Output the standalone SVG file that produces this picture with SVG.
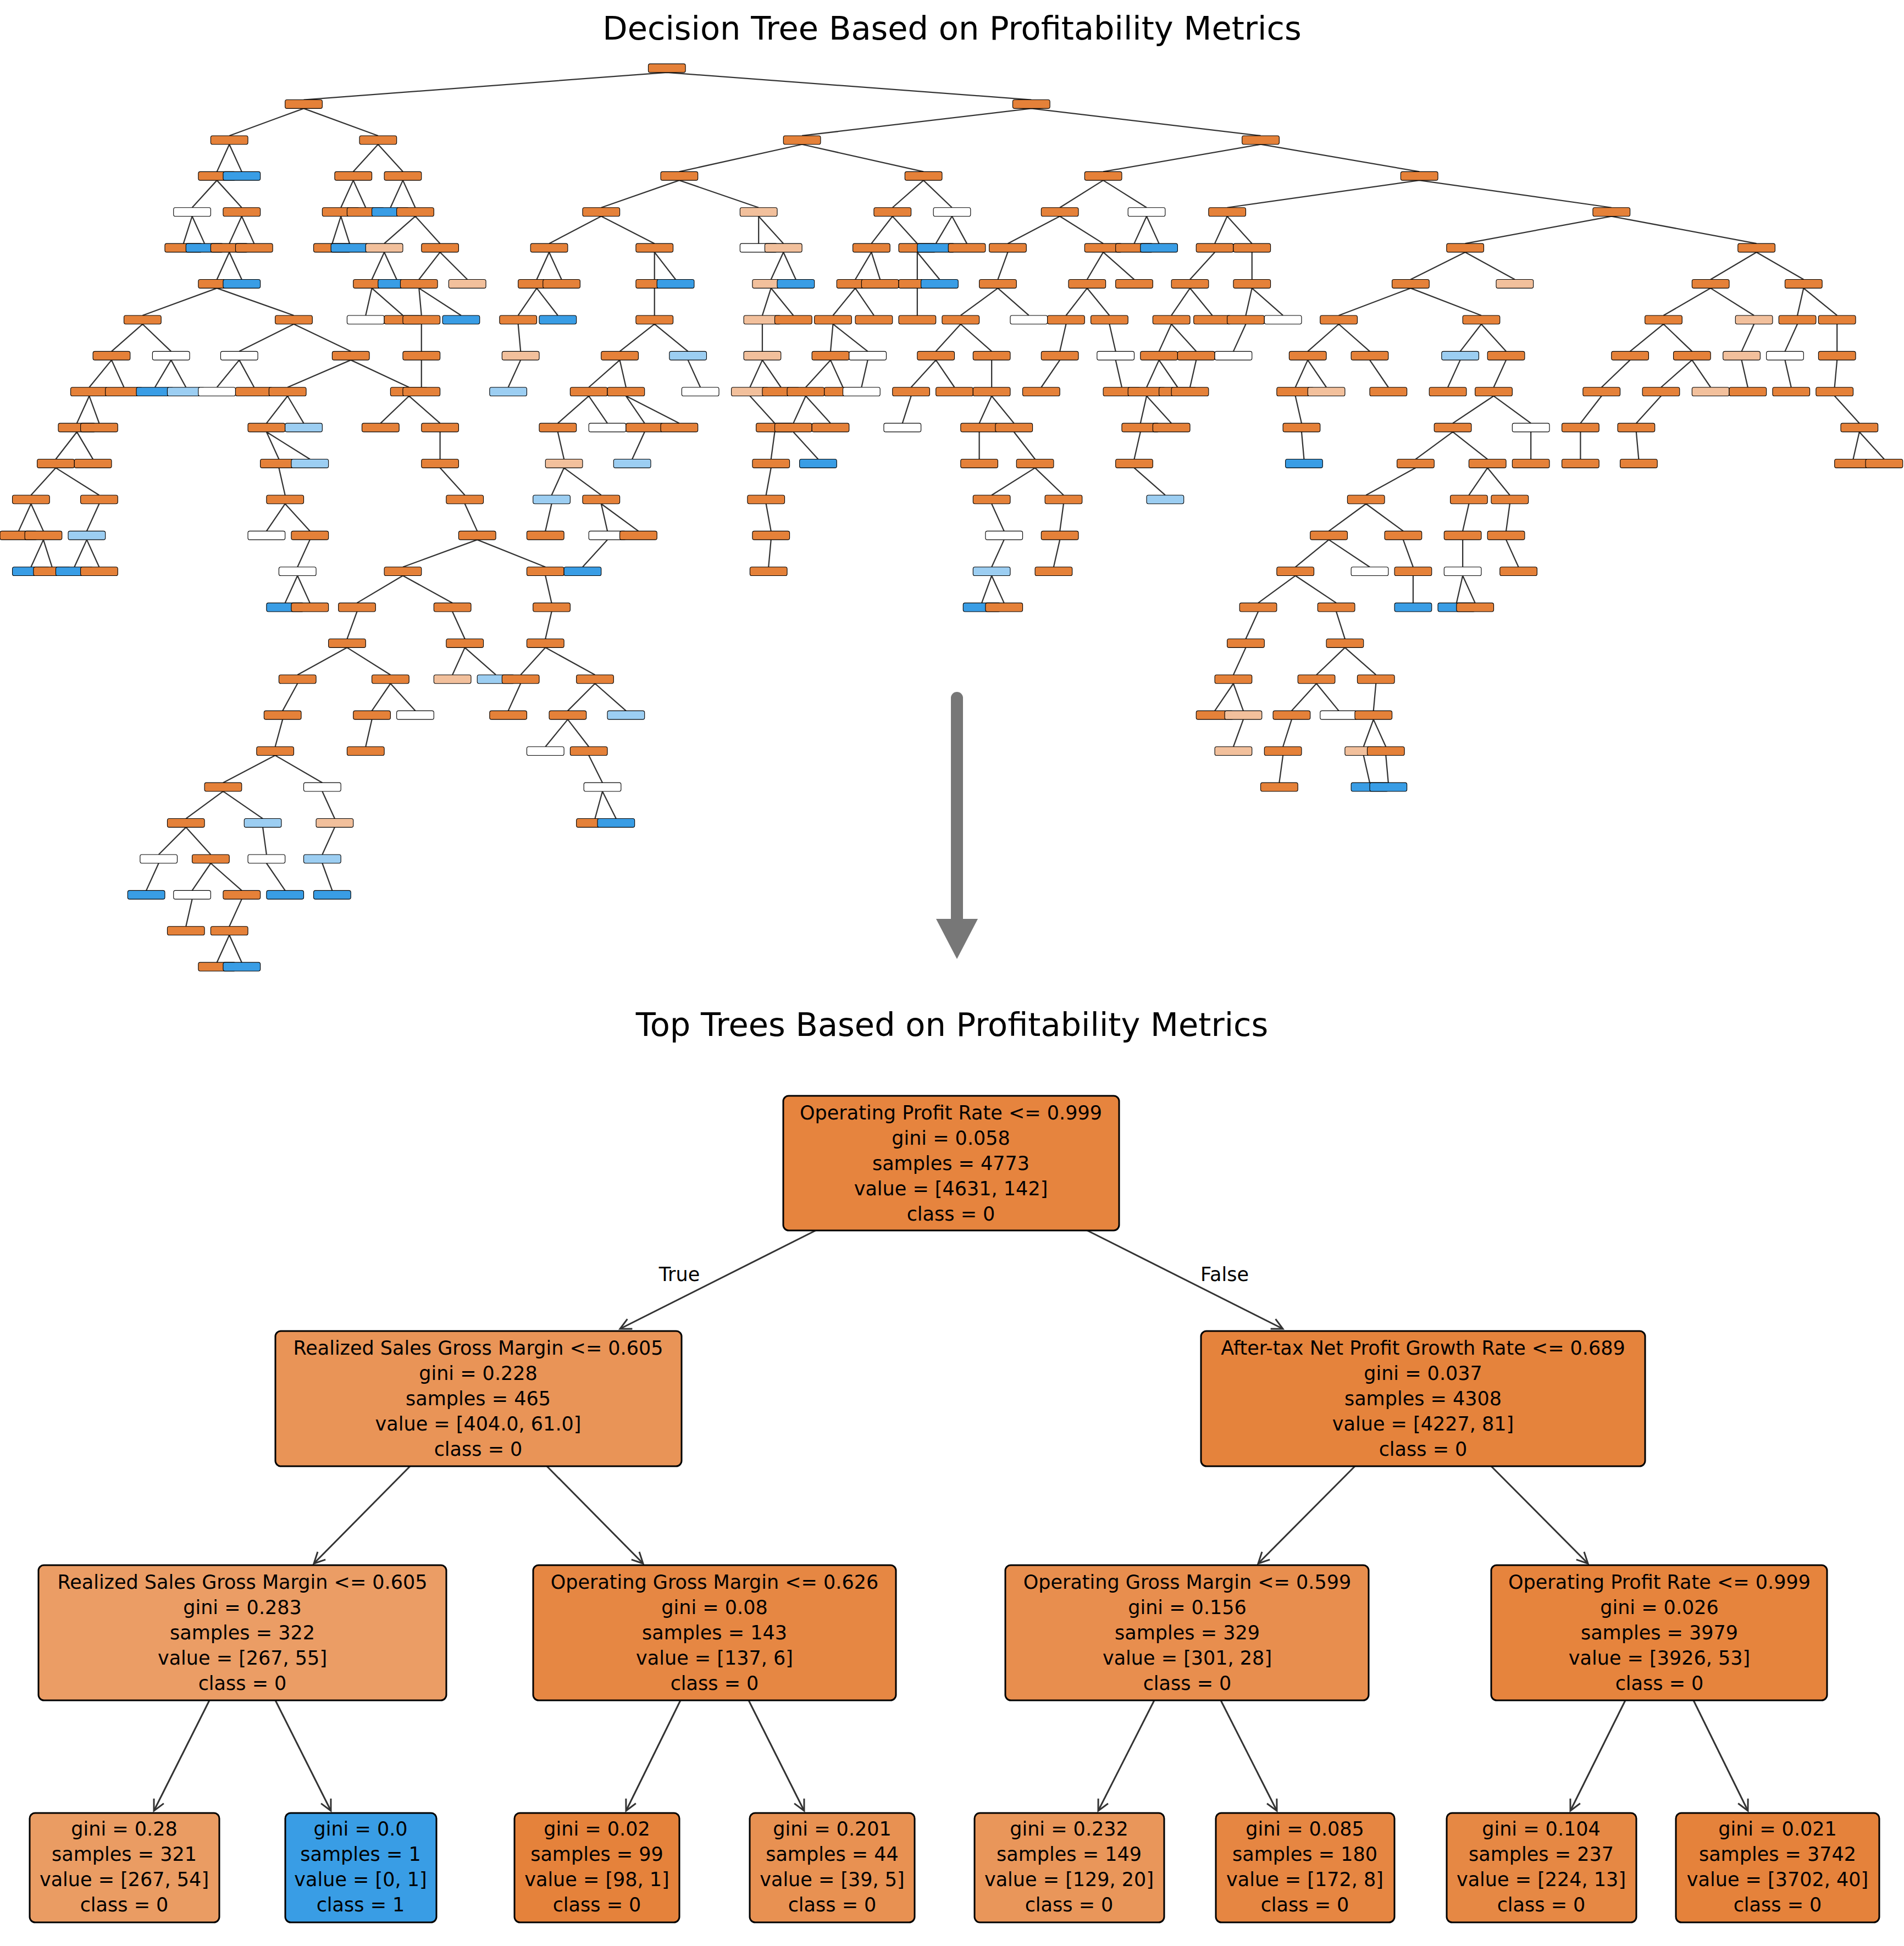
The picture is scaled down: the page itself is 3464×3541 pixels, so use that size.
<svg xmlns="http://www.w3.org/2000/svg" xmlns:xlink="http://www.w3.org/1999/xlink" width="3464" height="3541" viewBox="0 0 3464 3541">
<style>
text{font-family:"DejaVu Sans","Liberation Sans",sans-serif;fill:#000}
.t{font-size:59px;text-anchor:middle}
.nt{font-size:35px;text-anchor:middle}
.bx{stroke:#000;stroke-width:3}
.sm use{stroke:#000;stroke-width:0.5}
.o{fill:#e58139}.l{fill:#f2c09c}.w{fill:#ffffff}.b{fill:#399de5}.k{fill:#9ccef2}
.e{fill:none;stroke:#333;stroke-width:3}
.se{fill:none;stroke:#333;stroke-width:1}
</style>
<defs>
<rect id="n" x="-15" y="-3.5" width="30" height="7" rx="1.5"/>
<marker id="ah" markerWidth="26" markerHeight="26" refX="22" refY="13" orient="auto" markerUnits="userSpaceOnUse"><path d="M2,3 L22,13 L2,23" fill="none" stroke="#333" stroke-width="3"/></marker>
</defs>
<rect width="3464" height="3541" fill="#fff"/>
<text class="t" x="1732" y="72">Decision Tree Based on Profitability Metrics</text>
<text class="t" x="1732" y="1885">Top Trees Based on Profitability Metrics</text>
<g id="bigtree" transform="scale(2.2552)">
<g id="bigtree-edges">
<path class="se" d="M538 58.5L245 80.5M538 58.5L832 80.5
M245 87.5L185 109.5M245 87.5L305 109.5M832 87.5L647 109.5M832 87.5L1017 109.5
M185 116.5L175 138.5M185 116.5L195 138.5M305 116.5L285 138.5M305 116.5L325 138.5M647 116.5L548 138.5M647 116.5L745 138.5M1017 116.5L890 138.5M1017 116.5L1145 138.5
M175 145.5L155 167.5M175 145.5L195 167.5M285 145.5L275 167.5M285 145.5L295 167.5M325 145.5L315 167.5M325 145.5L335 167.5M548 145.5L485 167.5M548 145.5L612 167.5M745 145.5L720 167.5M745 145.5L768 167.5M890 145.5L855 167.5M890 145.5L925 167.5M1145 145.5L990 167.5M1145 145.5L1300 167.5
M155 174.5L148 196.5M155 174.5L165 196.5M195 174.5L185 196.5M195 174.5L205 196.5M275 174.5L268 196.5M275 174.5L282 196.5M335 174.5L310 196.5M335 174.5L355 196.5M485 174.5L443 196.5M485 174.5L528 196.5M612 174.5L612 196.5M612 174.5L632 196.5M720 174.5L703 196.5M720 174.5L740 196.5M768 174.5L755 196.5M768 174.5L780 196.5M855 174.5L813 196.5M855 174.5L890 196.5M925 174.5L915 196.5M925 174.5L935 196.5M990 174.5L980 196.5M990 174.5L1010 196.5M1300 174.5L1182 196.5M1300 174.5L1417 196.5
M185 203.5L175 225.5M185 203.5L195 225.5M310 203.5L300 225.5M310 203.5L320 225.5M355 203.5L338 225.5M355 203.5L377 225.5M443 203.5L433 225.5M443 203.5L453 225.5M528 203.5L528 225.5M528 203.5L545 225.5M632 203.5L622 225.5M632 203.5L642 225.5M703 203.5L690 225.5M703 203.5L710 225.5M740 203.5L740 225.5M740 203.5L758 225.5M813 203.5L805 225.5M890 203.5L877 225.5M890 203.5L915 225.5M980 203.5L960 225.5M1010 203.5L1010 225.5M1182 203.5L1138 225.5M1182 203.5L1222 225.5M1417 203.5L1380 225.5M1417 203.5L1455 225.5
M175 232.5L115 254.5M175 232.5L237 254.5M300 232.5L295 254.5M300 232.5L325 254.5M338 232.5L340 254.5M338 232.5L372 254.5M433 232.5L418 254.5M433 232.5L450 254.5M528 232.5L528 254.5M622 232.5L615 254.5M622 232.5L640 254.5M690 232.5L672 254.5M690 232.5L705 254.5M740 232.5L740 254.5M805 232.5L775 254.5M805 232.5L830 254.5M877 232.5L860 254.5M877 232.5L895 254.5M960 232.5L945 254.5M960 232.5L978 254.5M1010 232.5L1005 254.5M1010 232.5L1035 254.5M1138 232.5L1080 254.5M1138 232.5L1195 254.5M1380 232.5L1342 254.5M1380 232.5L1415 254.5M1455 232.5L1450 254.5M1455 232.5L1482 254.5
M115 261.5L90 283.5M115 261.5L138 283.5M237 261.5L193 283.5M237 261.5L283 283.5M340 261.5L340 283.5M418 261.5L420 283.5M528 261.5L500 283.5M528 261.5L555 283.5M615 261.5L615 283.5M672 261.5L670 283.5M672 261.5L700 283.5M775 261.5L755 283.5M775 261.5L800 283.5M860 261.5L855 283.5M895 261.5L900 283.5M945 261.5L935 283.5M945 261.5L965 283.5M1005 261.5L995 283.5M1080 261.5L1055 283.5M1080 261.5L1105 283.5M1195 261.5L1178 283.5M1195 261.5L1215 283.5M1342 261.5L1315 283.5M1342 261.5L1365 283.5M1415 261.5L1405 283.5M1450 261.5L1440 283.5M1482 261.5L1482 283.5
M90 290.5L72 312.5M90 290.5L100 312.5M138 290.5L125 312.5M138 290.5L150 312.5M193 290.5L175 312.5M193 290.5L205 312.5M283 290.5L232 312.5M283 290.5L330 312.5M340 290.5L340 312.5M420 290.5L410 312.5M500 290.5L475 312.5M500 290.5L505 312.5M555 290.5L565 312.5M615 290.5L605 312.5M615 290.5L630 312.5M670 290.5L650 312.5M670 290.5L680 312.5M700 290.5L695 312.5M755 290.5L735 312.5M755 290.5L770 312.5M800 290.5L800 312.5M855 290.5L840 312.5M900 290.5L905 312.5M935 290.5L925 312.5M935 290.5L950 312.5M965 290.5L960 312.5M1055 290.5L1045 312.5M1055 290.5L1070 312.5M1105 290.5L1120 312.5M1178 290.5L1168 312.5M1215 290.5L1205 312.5M1315 290.5L1292 312.5M1365 290.5L1340 312.5M1365 290.5L1380 312.5M1405 290.5L1410 312.5M1440 290.5L1445 312.5M1482 290.5L1480 312.5
M72 319.5L62 341.5M72 319.5L80 341.5M232 319.5L215 341.5M232 319.5L245 341.5M330 319.5L307 341.5M330 319.5L355 341.5M475 319.5L450 341.5M475 319.5L490 341.5M505 319.5L520 341.5M505 319.5L548 341.5M605 319.5L625 341.5M650 319.5L640 341.5M650 319.5L670 341.5M735 319.5L728 341.5M800 319.5L790 341.5M800 319.5L818 341.5M925 319.5L920 341.5M925 319.5L945 341.5M1045 319.5L1050 341.5M1205 319.5L1172 341.5M1205 319.5L1235 341.5M1292 319.5L1275 341.5M1340 319.5L1320 341.5M1480 319.5L1500 341.5
M62 348.5L45 370.5M62 348.5L75 370.5M215 348.5L225 370.5M215 348.5L250 370.5M355 348.5L355 370.5M450 348.5L455 370.5M520 348.5L510 370.5M625 348.5L622 370.5M640 348.5L660 370.5M790 348.5L790 370.5M818 348.5L835 370.5M920 348.5L915 370.5M1050 348.5L1052 370.5M1172 348.5L1142 370.5M1172 348.5L1200 370.5M1235 348.5L1235 370.5M1275 348.5L1275 370.5M1320 348.5L1322 370.5M1500 348.5L1495 370.5M1500 348.5L1520 370.5
M45 377.5L25 399.5M45 377.5L80 399.5M225 377.5L230 399.5M355 377.5L375 399.5M455 377.5L445 399.5M455 377.5L485 399.5M622 377.5L618 399.5M835 377.5L800 399.5M835 377.5L858 399.5M915 377.5L940 399.5M1142 377.5L1102 399.5M1200 377.5L1185 399.5M1200 377.5L1218 399.5
M25 406.5L15 428.5M25 406.5L35 428.5M80 406.5L70 428.5M230 406.5L215 428.5M230 406.5L250 428.5M375 406.5L385 428.5M445 406.5L440 428.5M485 406.5L490 428.5M485 406.5L515 428.5M618 406.5L622 428.5M800 406.5L810 428.5M858 406.5L855 428.5M1102 406.5L1072 428.5M1102 406.5L1132 428.5M1218 406.5L1215 428.5M1185 406.5L1180 428.5
M35 435.5L25 457.5M35 435.5L42 457.5M70 435.5L60 457.5M70 435.5L80 457.5M250 435.5L240 457.5M385 435.5L325 457.5M385 435.5L440 457.5M490 435.5L470 457.5M622 435.5L620 457.5M810 435.5L800 457.5M855 435.5L850 457.5M1072 435.5L1045 457.5M1072 435.5L1105 457.5M1132 435.5L1140 457.5M1215 435.5L1225 457.5M1180 435.5L1180 457.5
M240 464.5L230 486.5M240 464.5L250 486.5M325 464.5L288 486.5M325 464.5L365 486.5M440 464.5L445 486.5M800 464.5L792 486.5M800 464.5L810 486.5M1045 464.5L1015 486.5M1045 464.5L1078 486.5M1140 464.5L1140 486.5M1180 464.5L1175 486.5M1180 464.5L1190 486.5
M288 493.5L280 515.5M365 493.5L375 515.5M445 493.5L440 515.5M1015 493.5L1005 515.5M1078 493.5L1085 515.5
M280 522.5L240 544.5M280 522.5L315 544.5M375 522.5L365 544.5M375 522.5L400 544.5M440 522.5L420 544.5M440 522.5L480 544.5M1005 522.5L995 544.5M1085 522.5L1062 544.5M1085 522.5L1110 544.5
M240 551.5L228 573.5M315 551.5L300 573.5M315 551.5L335 573.5M420 551.5L410 573.5M480 551.5L458 573.5M480 551.5L505 573.5M995 551.5L980 573.5M995 551.5L1003 573.5M1062 551.5L1042 573.5M1062 551.5L1080 573.5M1110 551.5L1108 573.5
M228 580.5L222 602.5M458 580.5L440 602.5M458 580.5L475 602.5M1003 580.5L995 602.5M1042 580.5L1035 602.5M1108 580.5L1100 602.5M1108 580.5L1118 602.5M300 580.5L295 602.5
M222 609.5L180 631.5M222 609.5L260 631.5M475 609.5L486 631.5M1035 609.5L1032 631.5M1100 609.5L1105 631.5M1118 609.5L1120 631.5
M180 638.5L150 660.5M180 638.5L212 660.5M260 638.5L270 660.5M486 638.5L480 660.5M486 638.5L497 660.5
M150 667.5L128 689.5M150 667.5L170 689.5M212 667.5L215 689.5M270 667.5L260 689.5
M128 696.5L118 718.5M170 696.5L155 718.5M170 696.5L195 718.5M215 696.5L230 718.5M260 696.5L268 718.5
M195 725.5L185 747.5M155 725.5L150 747.5M185 754.5L175 776.5M185 754.5L195 776.5"/>
</g>
<g id="bigtree-nodes" class="sm">
<use href="#n" x="538" y="55" class="o"/>
<use href="#n" x="245" y="84" class="o"/><use href="#n" x="832" y="84" class="o"/>
<use href="#n" x="185" y="113" class="o"/><use href="#n" x="305" y="113" class="o"/><use href="#n" x="647" y="113" class="o"/><use href="#n" x="1017" y="113" class="o"/>
<use href="#n" x="175" y="142" class="o"/><use href="#n" x="195" y="142" class="b"/><use href="#n" x="285" y="142" class="o"/><use href="#n" x="325" y="142" class="o"/><use href="#n" x="548" y="142" class="o"/><use href="#n" x="745" y="142" class="o"/><use href="#n" x="890" y="142" class="o"/><use href="#n" x="1145" y="142" class="o"/>
<use href="#n" x="155" y="171" class="w"/><use href="#n" x="195" y="171" class="o"/><use href="#n" x="275" y="171" class="o"/><use href="#n" x="295" y="171" class="o"/><use href="#n" x="315" y="171" class="b"/><use href="#n" x="335" y="171" class="o"/><use href="#n" x="485" y="171" class="o"/><use href="#n" x="612" y="171" class="l"/><use href="#n" x="720" y="171" class="o"/><use href="#n" x="768" y="171" class="w"/><use href="#n" x="855" y="171" class="o"/><use href="#n" x="925" y="171" class="w"/><use href="#n" x="990" y="171" class="o"/><use href="#n" x="1300" y="171" class="o"/>
<use href="#n" x="148" y="200" class="o"/><use href="#n" x="165" y="200" class="b"/><use href="#n" x="185" y="200" class="o"/><use href="#n" x="205" y="200" class="o"/><use href="#n" x="268" y="200" class="o"/><use href="#n" x="282" y="200" class="b"/><use href="#n" x="310" y="200" class="l"/><use href="#n" x="355" y="200" class="o"/><use href="#n" x="443" y="200" class="o"/><use href="#n" x="528" y="200" class="o"/><use href="#n" x="612" y="200" class="w"/><use href="#n" x="632" y="200" class="l"/><use href="#n" x="703" y="200" class="o"/><use href="#n" x="740" y="200" class="o"/><use href="#n" x="755" y="200" class="b"/><use href="#n" x="780" y="200" class="o"/><use href="#n" x="813" y="200" class="o"/><use href="#n" x="890" y="200" class="o"/><use href="#n" x="915" y="200" class="o"/><use href="#n" x="935" y="200" class="b"/><use href="#n" x="980" y="200" class="o"/><use href="#n" x="1010" y="200" class="o"/><use href="#n" x="1182" y="200" class="o"/><use href="#n" x="1417" y="200" class="o"/>
<use href="#n" x="175" y="229" class="o"/><use href="#n" x="195" y="229" class="b"/><use href="#n" x="300" y="229" class="o"/><use href="#n" x="320" y="229" class="b"/><use href="#n" x="338" y="229" class="o"/><use href="#n" x="377" y="229" class="l"/><use href="#n" x="433" y="229" class="o"/><use href="#n" x="453" y="229" class="o"/><use href="#n" x="528" y="229" class="o"/><use href="#n" x="545" y="229" class="b"/><use href="#n" x="622" y="229" class="l"/><use href="#n" x="642" y="229" class="b"/><use href="#n" x="690" y="229" class="o"/><use href="#n" x="710" y="229" class="o"/><use href="#n" x="740" y="229" class="o"/><use href="#n" x="758" y="229" class="b"/><use href="#n" x="805" y="229" class="o"/><use href="#n" x="877" y="229" class="o"/><use href="#n" x="915" y="229" class="o"/><use href="#n" x="960" y="229" class="o"/><use href="#n" x="1010" y="229" class="o"/><use href="#n" x="1138" y="229" class="o"/><use href="#n" x="1222" y="229" class="l"/><use href="#n" x="1380" y="229" class="o"/><use href="#n" x="1455" y="229" class="o"/>
<use href="#n" x="115" y="258" class="o"/><use href="#n" x="237" y="258" class="o"/><use href="#n" x="295" y="258" class="w"/><use href="#n" x="325" y="258" class="o"/><use href="#n" x="340" y="258" class="o"/><use href="#n" x="372" y="258" class="b"/><use href="#n" x="418" y="258" class="o"/><use href="#n" x="450" y="258" class="b"/><use href="#n" x="528" y="258" class="o"/><use href="#n" x="615" y="258" class="l"/><use href="#n" x="640" y="258" class="o"/><use href="#n" x="672" y="258" class="o"/><use href="#n" x="705" y="258" class="o"/><use href="#n" x="740" y="258" class="o"/><use href="#n" x="775" y="258" class="o"/><use href="#n" x="830" y="258" class="w"/><use href="#n" x="860" y="258" class="o"/><use href="#n" x="895" y="258" class="o"/><use href="#n" x="945" y="258" class="o"/><use href="#n" x="978" y="258" class="o"/><use href="#n" x="1005" y="258" class="o"/><use href="#n" x="1035" y="258" class="w"/><use href="#n" x="1080" y="258" class="o"/><use href="#n" x="1195" y="258" class="o"/><use href="#n" x="1342" y="258" class="o"/><use href="#n" x="1415" y="258" class="l"/><use href="#n" x="1450" y="258" class="o"/><use href="#n" x="1482" y="258" class="o"/>
<use href="#n" x="90" y="287" class="o"/><use href="#n" x="138" y="287" class="w"/><use href="#n" x="193" y="287" class="w"/><use href="#n" x="283" y="287" class="o"/><use href="#n" x="340" y="287" class="o"/><use href="#n" x="420" y="287" class="l"/><use href="#n" x="500" y="287" class="o"/><use href="#n" x="555" y="287" class="k"/><use href="#n" x="615" y="287" class="l"/><use href="#n" x="670" y="287" class="o"/><use href="#n" x="700" y="287" class="w"/><use href="#n" x="755" y="287" class="o"/><use href="#n" x="800" y="287" class="o"/><use href="#n" x="855" y="287" class="o"/><use href="#n" x="900" y="287" class="w"/><use href="#n" x="935" y="287" class="o"/><use href="#n" x="965" y="287" class="o"/><use href="#n" x="995" y="287" class="w"/><use href="#n" x="1055" y="287" class="o"/><use href="#n" x="1105" y="287" class="o"/><use href="#n" x="1178" y="287" class="k"/><use href="#n" x="1215" y="287" class="o"/><use href="#n" x="1315" y="287" class="o"/><use href="#n" x="1365" y="287" class="o"/><use href="#n" x="1405" y="287" class="l"/><use href="#n" x="1440" y="287" class="w"/><use href="#n" x="1482" y="287" class="o"/>
<use href="#n" x="72" y="316" class="o"/><use href="#n" x="100" y="316" class="o"/><use href="#n" x="125" y="316" class="b"/><use href="#n" x="150" y="316" class="k"/><use href="#n" x="175" y="316" class="w"/><use href="#n" x="205" y="316" class="o"/><use href="#n" x="232" y="316" class="o"/><use href="#n" x="330" y="316" class="o"/><use href="#n" x="410" y="316" class="k"/><use href="#n" x="475" y="316" class="o"/><use href="#n" x="505" y="316" class="o"/><use href="#n" x="565" y="316" class="w"/><use href="#n" x="605" y="316" class="l"/><use href="#n" x="630" y="316" class="o"/><use href="#n" x="650" y="316" class="o"/><use href="#n" x="680" y="316" class="o"/><use href="#n" x="695" y="316" class="w"/><use href="#n" x="735" y="316" class="o"/><use href="#n" x="770" y="316" class="o"/><use href="#n" x="800" y="316" class="o"/><use href="#n" x="840" y="316" class="o"/><use href="#n" x="905" y="316" class="o"/><use href="#n" x="925" y="316" class="o"/><use href="#n" x="950" y="316" class="o"/><use href="#n" x="960" y="316" class="o"/><use href="#n" x="1045" y="316" class="o"/><use href="#n" x="1070" y="316" class="l"/><use href="#n" x="1120" y="316" class="o"/><use href="#n" x="1168" y="316" class="o"/><use href="#n" x="1205" y="316" class="o"/><use href="#n" x="1292" y="316" class="o"/><use href="#n" x="1340" y="316" class="o"/><use href="#n" x="1380" y="316" class="l"/><use href="#n" x="1410" y="316" class="o"/><use href="#n" x="1445" y="316" class="o"/><use href="#n" x="1480" y="316" class="o"/><use href="#n" x="340" y="316" class="o"/>
<use href="#n" x="62" y="345" class="o"/><use href="#n" x="80" y="345" class="o"/><use href="#n" x="215" y="345" class="o"/><use href="#n" x="245" y="345" class="k"/><use href="#n" x="307" y="345" class="o"/><use href="#n" x="355" y="345" class="o"/><use href="#n" x="450" y="345" class="o"/><use href="#n" x="490" y="345" class="w"/><use href="#n" x="520" y="345" class="o"/><use href="#n" x="548" y="345" class="o"/><use href="#n" x="625" y="345" class="o"/><use href="#n" x="640" y="345" class="o"/><use href="#n" x="670" y="345" class="o"/><use href="#n" x="728" y="345" class="w"/><use href="#n" x="790" y="345" class="o"/><use href="#n" x="818" y="345" class="o"/><use href="#n" x="920" y="345" class="o"/><use href="#n" x="945" y="345" class="o"/><use href="#n" x="1050" y="345" class="o"/><use href="#n" x="1172" y="345" class="o"/><use href="#n" x="1235" y="345" class="w"/><use href="#n" x="1275" y="345" class="o"/><use href="#n" x="1320" y="345" class="o"/><use href="#n" x="1500" y="345" class="o"/>
<use href="#n" x="45" y="374" class="o"/><use href="#n" x="75" y="374" class="o"/><use href="#n" x="225" y="374" class="o"/><use href="#n" x="250" y="374" class="k"/><use href="#n" x="355" y="374" class="o"/><use href="#n" x="455" y="374" class="l"/><use href="#n" x="510" y="374" class="k"/><use href="#n" x="622" y="374" class="o"/><use href="#n" x="660" y="374" class="b"/><use href="#n" x="790" y="374" class="o"/><use href="#n" x="835" y="374" class="o"/><use href="#n" x="915" y="374" class="o"/><use href="#n" x="1052" y="374" class="b"/><use href="#n" x="1142" y="374" class="o"/><use href="#n" x="1200" y="374" class="o"/><use href="#n" x="1235" y="374" class="o"/><use href="#n" x="1275" y="374" class="o"/><use href="#n" x="1322" y="374" class="o"/><use href="#n" x="1495" y="374" class="o"/><use href="#n" x="1520" y="374" class="o"/>
<use href="#n" x="25" y="403" class="o"/><use href="#n" x="80" y="403" class="o"/><use href="#n" x="230" y="403" class="o"/><use href="#n" x="375" y="403" class="o"/><use href="#n" x="445" y="403" class="k"/><use href="#n" x="485" y="403" class="o"/><use href="#n" x="618" y="403" class="o"/><use href="#n" x="800" y="403" class="o"/><use href="#n" x="858" y="403" class="o"/><use href="#n" x="940" y="403" class="k"/><use href="#n" x="1102" y="403" class="o"/><use href="#n" x="1185" y="403" class="o"/><use href="#n" x="1218" y="403" class="o"/>
<use href="#n" x="15" y="432" class="o"/><use href="#n" x="35" y="432" class="o"/><use href="#n" x="70" y="432" class="k"/><use href="#n" x="215" y="432" class="w"/><use href="#n" x="250" y="432" class="o"/><use href="#n" x="385" y="432" class="o"/><use href="#n" x="440" y="432" class="o"/><use href="#n" x="490" y="432" class="w"/><use href="#n" x="515" y="432" class="o"/><use href="#n" x="622" y="432" class="o"/><use href="#n" x="810" y="432" class="w"/><use href="#n" x="855" y="432" class="o"/><use href="#n" x="1072" y="432" class="o"/><use href="#n" x="1132" y="432" class="o"/><use href="#n" x="1215" y="432" class="o"/><use href="#n" x="1180" y="432" class="o"/>
<use href="#n" x="25" y="461" class="b"/><use href="#n" x="42" y="461" class="o"/><use href="#n" x="60" y="461" class="b"/><use href="#n" x="80" y="461" class="o"/><use href="#n" x="240" y="461" class="w"/><use href="#n" x="325" y="461" class="o"/><use href="#n" x="440" y="461" class="o"/><use href="#n" x="470" y="461" class="b"/><use href="#n" x="620" y="461" class="o"/><use href="#n" x="800" y="461" class="k"/><use href="#n" x="850" y="461" class="o"/><use href="#n" x="1045" y="461" class="o"/><use href="#n" x="1105" y="461" class="w"/><use href="#n" x="1140" y="461" class="o"/><use href="#n" x="1225" y="461" class="o"/><use href="#n" x="1180" y="461" class="w"/>
<use href="#n" x="230" y="490" class="b"/><use href="#n" x="250" y="490" class="o"/><use href="#n" x="288" y="490" class="o"/><use href="#n" x="365" y="490" class="o"/><use href="#n" x="445" y="490" class="o"/><use href="#n" x="792" y="490" class="b"/><use href="#n" x="810" y="490" class="o"/><use href="#n" x="1015" y="490" class="o"/><use href="#n" x="1078" y="490" class="o"/><use href="#n" x="1140" y="490" class="b"/><use href="#n" x="1175" y="490" class="b"/><use href="#n" x="1190" y="490" class="o"/>
<use href="#n" x="280" y="519" class="o"/><use href="#n" x="375" y="519" class="o"/><use href="#n" x="440" y="519" class="o"/><use href="#n" x="1005" y="519" class="o"/><use href="#n" x="1085" y="519" class="o"/>
<use href="#n" x="240" y="548" class="o"/><use href="#n" x="315" y="548" class="o"/><use href="#n" x="365" y="548" class="l"/><use href="#n" x="400" y="548" class="k"/><use href="#n" x="420" y="548" class="o"/><use href="#n" x="480" y="548" class="o"/><use href="#n" x="995" y="548" class="o"/><use href="#n" x="1062" y="548" class="o"/><use href="#n" x="1110" y="548" class="o"/>
<use href="#n" x="228" y="577" class="o"/><use href="#n" x="300" y="577" class="o"/><use href="#n" x="335" y="577" class="w"/><use href="#n" x="410" y="577" class="o"/><use href="#n" x="458" y="577" class="o"/><use href="#n" x="505" y="577" class="k"/><use href="#n" x="980" y="577" class="o"/><use href="#n" x="1003" y="577" class="l"/><use href="#n" x="1042" y="577" class="o"/><use href="#n" x="1080" y="577" class="w"/><use href="#n" x="1108" y="577" class="o"/>
<use href="#n" x="222" y="606" class="o"/><use href="#n" x="295" y="606" class="o"/><use href="#n" x="440" y="606" class="w"/><use href="#n" x="475" y="606" class="o"/><use href="#n" x="995" y="606" class="l"/><use href="#n" x="1035" y="606" class="o"/><use href="#n" x="1100" y="606" class="l"/><use href="#n" x="1118" y="606" class="o"/>
<use href="#n" x="180" y="635" class="o"/><use href="#n" x="260" y="635" class="w"/><use href="#n" x="486" y="635" class="w"/><use href="#n" x="1032" y="635" class="o"/><use href="#n" x="1105" y="635" class="b"/><use href="#n" x="1120" y="635" class="b"/>
<use href="#n" x="150" y="664" class="o"/><use href="#n" x="212" y="664" class="k"/><use href="#n" x="270" y="664" class="l"/><use href="#n" x="480" y="664" class="o"/><use href="#n" x="497" y="664" class="b"/>
<use href="#n" x="128" y="693" class="w"/><use href="#n" x="170" y="693" class="o"/><use href="#n" x="215" y="693" class="w"/><use href="#n" x="260" y="693" class="k"/>
<use href="#n" x="118" y="722" class="b"/><use href="#n" x="155" y="722" class="w"/><use href="#n" x="195" y="722" class="o"/><use href="#n" x="230" y="722" class="b"/><use href="#n" x="268" y="722" class="b"/>
<use href="#n" x="185" y="751" class="o"/><use href="#n" x="150" y="751" class="o"/>
<use href="#n" x="175" y="780" class="o"/><use href="#n" x="195" y="780" class="b"/>
</g>
</g>
<g id="big-arrow">
<line x1="1741" y1="1270" x2="1741" y2="1680" stroke="#777" stroke-width="22" stroke-linecap="round"/>
<polygon points="1703,1672 1779,1672 1741,1745" fill="#777"/>
</g>
<g id="connectors">
<path class="e" marker-end="url(#ah)" d="M1484 2239L1128 2418"/>
<path class="e" marker-end="url(#ah)" d="M1978 2239L2334 2418"/>
<path class="e" marker-end="url(#ah)" d="M746 2668L571 2845"/>
<path class="e" marker-end="url(#ah)" d="M995 2668L1170 2845"/>
<path class="e" marker-end="url(#ah)" d="M2465 2668L2289 2845"/>
<path class="e" marker-end="url(#ah)" d="M2713 2668L2889 2845"/>
<path class="e" marker-end="url(#ah)" d="M381 3094L280 3295"/>
<path class="e" marker-end="url(#ah)" d="M501 3094L602 3295"/>
<path class="e" marker-end="url(#ah)" d="M1238 3094L1139 3295"/>
<path class="e" marker-end="url(#ah)" d="M1362 3094L1463 3295"/>
<path class="e" marker-end="url(#ah)" d="M2100 3094L1998 3295"/>
<path class="e" marker-end="url(#ah)" d="M2221 3094L2323 3295"/>
<path class="e" marker-end="url(#ah)" d="M2957 3094L2857 3295"/>
<path class="e" marker-end="url(#ah)" d="M3081 3094L3180 3295"/>
<text class="nt" x="1236" y="2331">True</text>
<text class="nt" x="2228" y="2331">False</text>
</g>
<g id="root"><rect class="bx" x="1425" y="1994" width="611" height="245" rx="10" fill="#e6843e"/>
<text class="nt" x="1730" y="2037">Operating Profit Rate &lt;= 0.999</text><text class="nt" x="1730" y="2083">gini = 0.058</text><text class="nt" x="1730" y="2129">samples = 4773</text><text class="nt" x="1730" y="2175">value = [4631, 142]</text><text class="nt" x="1730" y="2221">class = 0</text></g>
<g id="n1"><rect class="bx" x="501" y="2422" width="739" height="246" rx="10" fill="#e99457"/>
<text class="nt" x="870" y="2465">Realized Sales Gross Margin &lt;= 0.605</text><text class="nt" x="870" y="2511">gini = 0.228</text><text class="nt" x="870" y="2557">samples = 465</text><text class="nt" x="870" y="2603">value = [404.0, 61.0]</text><text class="nt" x="870" y="2649">class = 0</text></g>
<g id="n2"><rect class="bx" x="2185" y="2422" width="808" height="246" rx="10" fill="#e5833c"/>
<text class="nt" x="2589" y="2465">After-tax Net Profit Growth Rate &lt;= 0.689</text><text class="nt" x="2589" y="2511">gini = 0.037</text><text class="nt" x="2589" y="2557">samples = 4308</text><text class="nt" x="2589" y="2603">value = [4227, 81]</text><text class="nt" x="2589" y="2649">class = 0</text></g>
<g id="n3"><rect class="bx" x="70" y="2848" width="742" height="246" rx="10" fill="#eb9d65"/>
<text class="nt" x="441" y="2891">Realized Sales Gross Margin &lt;= 0.605</text><text class="nt" x="441" y="2937">gini = 0.283</text><text class="nt" x="441" y="2983">samples = 322</text><text class="nt" x="441" y="3029">value = [267, 55]</text><text class="nt" x="441" y="3075">class = 0</text></g>
<g id="n4"><rect class="bx" x="970" y="2848" width="660" height="246" rx="10" fill="#e68743"/>
<text class="nt" x="1300" y="2891">Operating Gross Margin &lt;= 0.626</text><text class="nt" x="1300" y="2937">gini = 0.08</text><text class="nt" x="1300" y="2983">samples = 143</text><text class="nt" x="1300" y="3029">value = [137, 6]</text><text class="nt" x="1300" y="3075">class = 0</text></g>
<g id="n5"><rect class="bx" x="1829" y="2848" width="661" height="246" rx="10" fill="#e88e4e"/>
<text class="nt" x="2160" y="2891">Operating Gross Margin &lt;= 0.599</text><text class="nt" x="2160" y="2937">gini = 0.156</text><text class="nt" x="2160" y="2983">samples = 329</text><text class="nt" x="2160" y="3029">value = [301, 28]</text><text class="nt" x="2160" y="3075">class = 0</text></g>
<g id="n6"><rect class="bx" x="2713" y="2848" width="611" height="246" rx="10" fill="#e6843d"/>
<text class="nt" x="3019" y="2891">Operating Profit Rate &lt;= 0.999</text><text class="nt" x="3019" y="2937">gini = 0.026</text><text class="nt" x="3019" y="2983">samples = 3979</text><text class="nt" x="3019" y="3029">value = [3926, 53]</text><text class="nt" x="3019" y="3075">class = 0</text></g>
<g id="n7"><rect class="bx" x="54" y="3299" width="345" height="199" rx="10" fill="#ea9c63"/>
<text class="nt" x="226" y="3340">gini = 0.28</text><text class="nt" x="226" y="3386">samples = 321</text><text class="nt" x="226" y="3432">value = [267, 54]</text><text class="nt" x="226" y="3478">class = 0</text></g>
<g id="n8"><rect class="bx" x="519" y="3299" width="275" height="199" rx="10" fill="#399de5"/>
<text class="nt" x="656" y="3340">gini = 0.0</text><text class="nt" x="656" y="3386">samples = 1</text><text class="nt" x="656" y="3432">value = [0, 1]</text><text class="nt" x="656" y="3478">class = 1</text></g>
<g id="n9"><rect class="bx" x="936" y="3299" width="300" height="199" rx="10" fill="#e5823b"/>
<text class="nt" x="1086" y="3340">gini = 0.02</text><text class="nt" x="1086" y="3386">samples = 99</text><text class="nt" x="1086" y="3432">value = [98, 1]</text><text class="nt" x="1086" y="3478">class = 0</text></g>
<g id="n10"><rect class="bx" x="1364" y="3299" width="300" height="199" rx="10" fill="#e89152"/>
<text class="nt" x="1514" y="3340">gini = 0.201</text><text class="nt" x="1514" y="3386">samples = 44</text><text class="nt" x="1514" y="3432">value = [39, 5]</text><text class="nt" x="1514" y="3478">class = 0</text></g>
<g id="n11"><rect class="bx" x="1773" y="3299" width="345" height="199" rx="10" fill="#e9965a"/>
<text class="nt" x="1945" y="3340">gini = 0.232</text><text class="nt" x="1945" y="3386">samples = 149</text><text class="nt" x="1945" y="3432">value = [129, 20]</text><text class="nt" x="1945" y="3478">class = 0</text></g>
<g id="n12"><rect class="bx" x="2212" y="3299" width="325" height="199" rx="10" fill="#e68642"/>
<text class="nt" x="2374" y="3340">gini = 0.085</text><text class="nt" x="2374" y="3386">samples = 180</text><text class="nt" x="2374" y="3432">value = [172, 8]</text><text class="nt" x="2374" y="3478">class = 0</text></g>
<g id="n13"><rect class="bx" x="2632" y="3299" width="345" height="199" rx="10" fill="#e68844"/>
<text class="nt" x="2804" y="3340">gini = 0.104</text><text class="nt" x="2804" y="3386">samples = 237</text><text class="nt" x="2804" y="3432">value = [224, 13]</text><text class="nt" x="2804" y="3478">class = 0</text></g>
<g id="n14"><rect class="bx" x="3049" y="3299" width="370" height="199" rx="10" fill="#e5823b"/>
<text class="nt" x="3234" y="3340">gini = 0.021</text><text class="nt" x="3234" y="3386">samples = 3742</text><text class="nt" x="3234" y="3432">value = [3702, 40]</text><text class="nt" x="3234" y="3478">class = 0</text></g>
</svg>
